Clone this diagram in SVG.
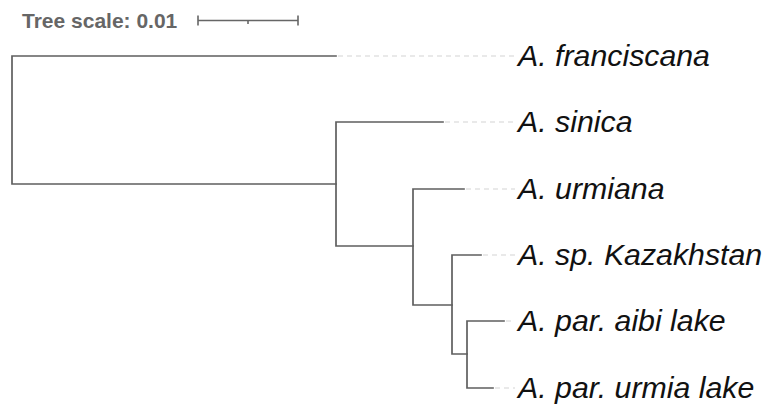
<svg xmlns="http://www.w3.org/2000/svg" width="770" height="407" viewBox="0 0 770 407">
  <style>
    .br { fill: none; stroke: #5f5f5f; stroke-width: 1.7; stroke-linecap: square; }
    .dash { fill: none; stroke: #d4d4d4; stroke-width: 1.2; stroke-dasharray: 5 4; }
    .lbl { font-family: "Liberation Sans", Arial, sans-serif; font-style: italic; font-size: 30.3px; fill: #111; }
    .scale { font-family: "Liberation Sans", Arial, sans-serif; font-weight: bold; font-size: 21px; fill: #666; }
    .bar { fill: none; stroke: #666; stroke-width: 1.6; }
  </style>
  <rect width="770" height="407" fill="#fff"/>

  <!-- scale legend -->
  <g id="scale">
    <text class="scale" x="22" y="28">Tree scale: 0.01</text>
    <path class="bar" d="M198 20.5H298M198 15.5V25.5M298 15.5V25.5M248 20.5V24"/>
  </g>

  <!-- branches -->
  <g id="connectors">
    <path class="br" d="M12 56V184M12 56H336M12 184H336"/>
    <path class="br" d="M336 122V246M336 122H443M336 246H413"/>
    <path class="br" d="M413 189V305M413 189H464M413 305H452"/>
    <path class="br" d="M452 255V354M452 255H481M452 354H467"/>
    <path class="br" d="M467 321V388M467 321H504M467 388H493"/>
    <path class="dash" d="M338 56H515M445 122H515M466 189H515M483 255H515M506 321H515M495 388H515"/>
  </g>

  <!-- leaves -->
  <g id="leaf-franciscana"><text class="lbl" x="518" y="66">A. franciscana</text></g>
  <g id="leaf-sinica"><text class="lbl" x="518" y="132">A. sinica</text></g>
  <g id="leaf-urmiana"><text class="lbl" x="518" y="199">A. urmiana</text></g>
  <g id="leaf-kazakhstan"><text class="lbl" x="518" y="265">A. sp. Kazakhstan</text></g>
  <g id="leaf-aibi"><text class="lbl" x="518" y="331">A. par. aibi lake</text></g>
  <g id="leaf-urmia"><text class="lbl" x="518" y="398">A. par. urmia lake</text></g>
</svg>
